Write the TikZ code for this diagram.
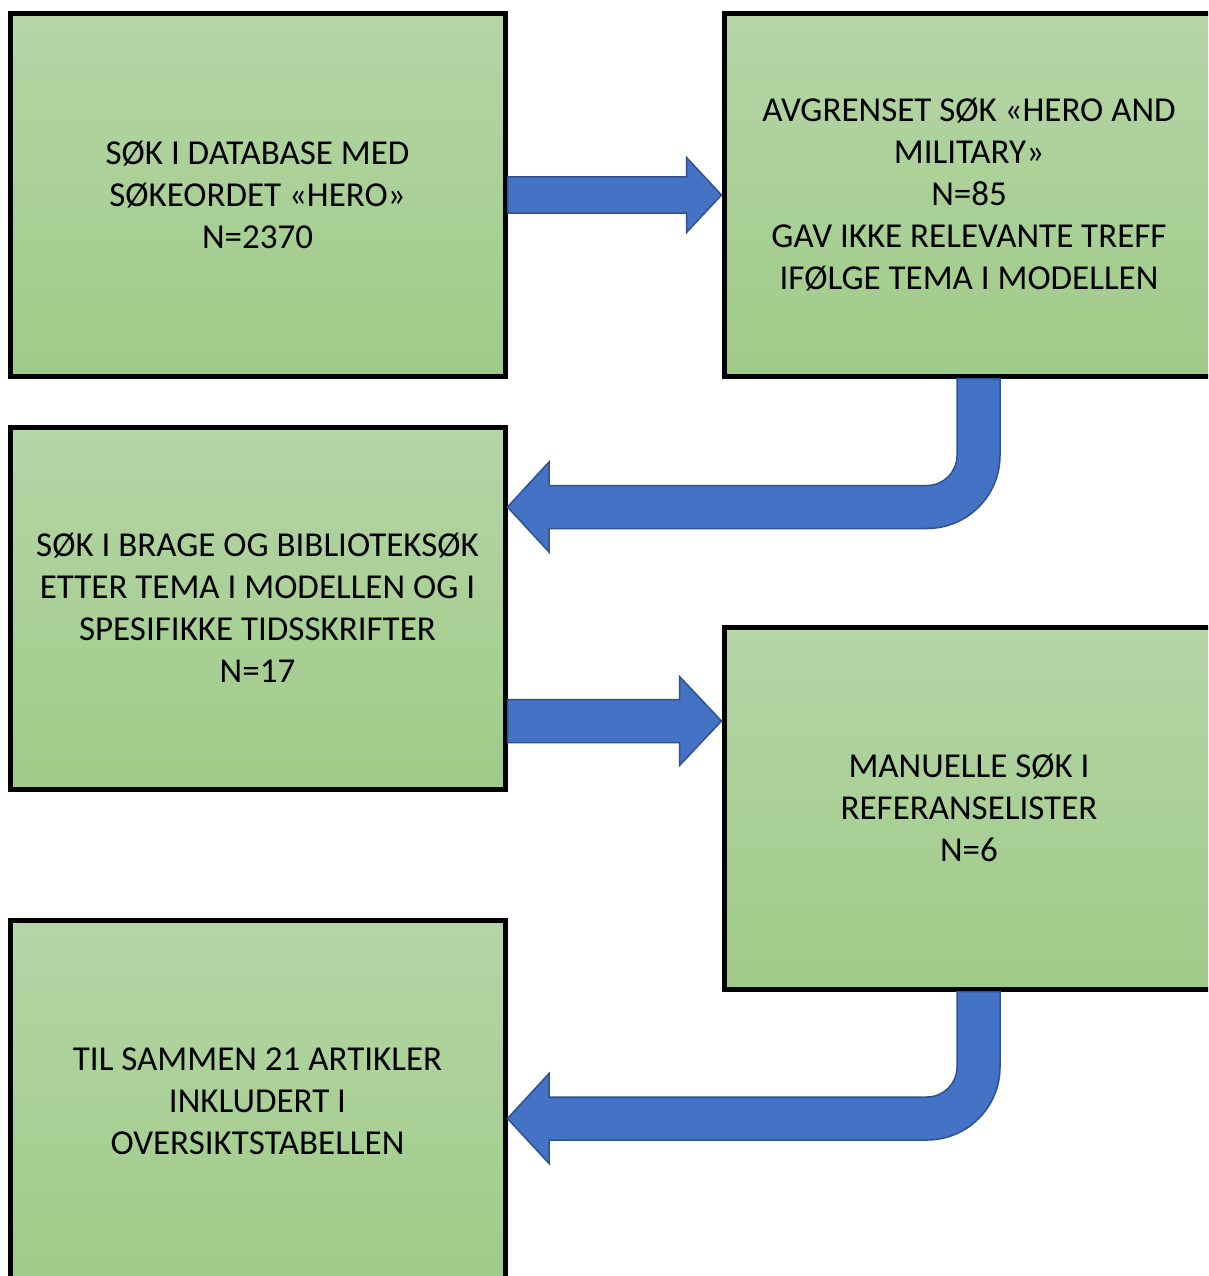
\documentclass[tikz,border=0pt]{standalone}
\usepackage{fontspec}
\setmainfont{Carlito}
\usetikzlibrary{calc}
\definecolor{gTop}{RGB}{181,213,166}
\definecolor{gBot}{RGB}{159,203,136}
\definecolor{arrFill}{RGB}{68,114,196}
\definecolor{arrLine}{RGB}{47,82,143}
\tikzset{
  box/.style={rectangle, draw=black, line width=5pt, top color=gTop, bottom color=gBot,
    align=center, font=\fontsize{35}{42}\selectfont, inner sep=0pt},
  blockarrow/.style={fill=arrFill, draw=arrLine, line width=1.5pt, line join=miter}
}
\begin{document}
\begin{tikzpicture}[x=1pt,y=-1pt]
\useasboundingbox (0,0) rectangle (1208,1276);
\clip (0,0) rectangle (1208,1276);
\fill[white] (0,0) rectangle (1208,1276);

\node[box, minimum width=495pt, minimum height=362pt] (b1) at (257.5,195)
  {SØK I DATABASE MED\\SØKEORDET «HERO»\\N=2370};
\node[box, minimum width=490pt, minimum height=362pt] (b2) at (969,195)
  {AVGRENSET SØK «HERO AND\\MILITARY»\\N=85\\GAV IKKE RELEVANTE TREFF\\IFØLGE TEMA I MODELLEN};
\node[box, minimum width=495pt, minimum height=362pt] (b3) at (257.5,608)
  {SØK I BRAGE OG BIBLIOTEKSØK\\ETTER TEMA I MODELLEN OG I\\SPESIFIKKE TIDSSKRIFTER\\N=17};
\node[box, minimum width=490pt, minimum height=362pt] (b4) at (969,808)
  {MANUELLE SØK I\\REFERANSELISTER\\N=6};
\node[box, minimum width=495pt, minimum height=362pt] (b5) at (257.5,1101)
  {TIL SAMMEN 21 ARTIKLER\\INKLUDERT I\\OVERSIKTSTABELLEN};

% straight arrow b1 -> b2
\coordinate (A1s) at (b1.east);
\coordinate (A1e) at (b2.west |- A1s);
\draw[blockarrow] ($(A1s)+(0,-18)$) -- ($(A1e)+(-35,-18)$) -- ($(A1e)+(-35,-37.5)$) -- (A1e)
  -- ($(A1e)+(-35,37.5)$) -- ($(A1e)+(-35,18)$) -- ($(A1s)+(0,18)$) -- cycle;

% straight arrow b3 -> b4
\coordinate (A2s) at (b3.east |- 0,721);
\coordinate (A2e) at (b4.west |- A2s);
\draw[blockarrow] ($(A2s)+(0,-21.5)$) -- ($(A2e)+(-42,-21.5)$) -- ($(A2e)+(-42,-44.5)$) -- (A2e)
  -- ($(A2e)+(-42,44.5)$) -- ($(A2e)+(-42,21.5)$) -- ($(A2s)+(0,21.5)$) -- cycle;

% bent arrow b2 -> b3
\coordinate (S1) at ($(b2.south)+(9.5,0)$);
\coordinate (T1) at (b3.east |- 0,507);
\coordinate (K1) at (S1 |- T1);
\draw[blockarrow] ($(S1)+(-21.5,0)$) -- ($(K1)+(-21.5,-51.5)$)
  .. controls ($(K1)+(-21.5,-34.9)$) and ($(K1)+(-34.9,-21.5)$) .. ($(K1)+(-51.5,-21.5)$)
  -- ($(T1)+(41.5,-21.5)$) -- ($(T1)+(41.5,-45)$) -- (T1) -- ($(T1)+(41.5,45)$) -- ($(T1)+(41.5,21.5)$)
  -- ($(K1)+(-51.5,21.5)$)
  .. controls ($(K1)+(-11.2,21.5)$) and ($(K1)+(21.5,-11.2)$) .. ($(K1)+(21.5,-51.5)$)
  -- ($(S1)+(21.5,0)$) -- cycle;

% bent arrow b4 -> b5
\coordinate (S2) at ($(b4.south)+(9.5,0)$);
\coordinate (T2) at (b5.east |- 0,1118.5);
\coordinate (K2) at (S2 |- T2);
\draw[blockarrow] ($(S2)+(-21.5,0)$) -- ($(K2)+(-21.5,-51.5)$)
  .. controls ($(K2)+(-21.5,-34.9)$) and ($(K2)+(-34.9,-21.5)$) .. ($(K2)+(-51.5,-21.5)$)
  -- ($(T2)+(41.5,-21.5)$) -- ($(T2)+(41.5,-45)$) -- (T2) -- ($(T2)+(41.5,45)$) -- ($(T2)+(41.5,21.5)$)
  -- ($(K2)+(-51.5,21.5)$)
  .. controls ($(K2)+(-11.2,21.5)$) and ($(K2)+(21.5,-11.2)$) .. ($(K2)+(21.5,-51.5)$)
  -- ($(S2)+(21.5,0)$) -- cycle;
\end{tikzpicture}
\end{document}
